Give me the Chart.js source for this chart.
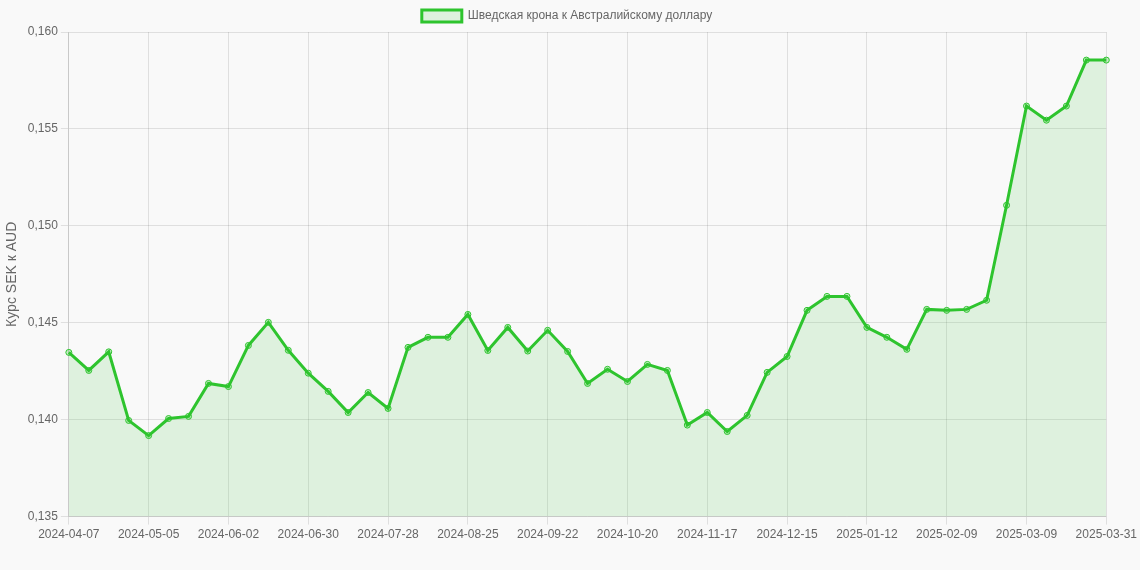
<!DOCTYPE html>
<html>
<head>
<meta charset="utf-8">
<script src="https://cdn.jsdelivr.net/npm/chart.js@4/dist/chart.umd.min.js"></script>
<style>
  html, body { margin: 0; padding: 0; background: #f9f9f9; }
  #wrap { width: 1140px; height: 570px; }
</style>
</head>
<body>
<div id="wrap"><canvas id="rate-chart"></canvas></div>
<script>
// weekly dates
const dates = [
  '2024-04-07', '2024-04-14', '2024-04-21', '2024-04-28', '2024-05-05', '2024-05-12',
  '2024-05-19', '2024-05-26', '2024-06-02', '2024-06-09', '2024-06-16', '2024-06-23',
  '2024-06-30', '2024-07-07', '2024-07-14', '2024-07-21', '2024-07-28', '2024-08-04',
  '2024-08-11', '2024-08-18', '2024-08-25', '2024-09-01', '2024-09-08', '2024-09-15',
  '2024-09-22', '2024-09-29', '2024-10-06', '2024-10-13', '2024-10-20', '2024-10-27',
  '2024-11-03', '2024-11-10', '2024-11-17', '2024-11-24', '2024-12-01', '2024-12-08',
  '2024-12-15', '2024-12-22', '2024-12-29', '2025-01-05', '2025-01-12', '2025-01-19',
  '2025-01-26', '2025-02-02', '2025-02-09', '2025-02-16', '2025-02-23', '2025-03-02',
  '2025-03-09', '2025-03-16', '2025-03-23', '2025-03-30', '2025-03-31'
];

const sekAud = [
  0.14347, 0.14254, 0.14350, 0.13996, 0.13918, 0.14006,
  0.14017, 0.14187, 0.14171, 0.14383, 0.14502, 0.14358,
  0.14240, 0.14146, 0.14037, 0.14140, 0.14058, 0.14373,
  0.14425, 0.14425, 0.14543, 0.14357, 0.14476, 0.14354,
  0.14461, 0.14352, 0.14187, 0.14260, 0.14197, 0.14285,
  0.14254, 0.13972, 0.14037, 0.13939, 0.14022, 0.14244,
  0.14326, 0.14564, 0.14636, 0.14636, 0.14476, 0.14425,
  0.14363, 0.14569, 0.14564, 0.14569, 0.14616, 0.15106,
  0.15618, 0.15545, 0.15618, 0.15855, 0.15855
];

const yTicks = { min: 0.135, max: 0.160, step: 0.005 };

Chart.defaults.font.family = '"Liberation Sans", Arial, sans-serif';
Chart.defaults.font.size = 12;
Chart.defaults.color = '#666';

let ctx = document.getElementById('rate-chart');
new Chart(ctx, {
  type: 'line',
  data: {
    labels: dates,
    datasets: [{
      label: 'Шведская крона к Австралийскому доллару',
      data: sekAud,
      borderColor: 'rgb(46,196,46)',
      backgroundColor: 'rgba(46,196,46,0.13)',
      borderWidth: 3,
      fill: true,
      tension: 0,
      pointRadius: 3,
      pointBorderWidth: 1,
      pointBackgroundColor: 'rgba(46,196,46,0.25)',
      pointBorderColor: 'rgb(46,196,46)'
    }]
  },
  options: {
    responsive: true,
    maintainAspectRatio: false,
    animation: false,
    layout: { padding: { left: 0, right: 6, top: 0, bottom: 25 } },
    plugins: {
      legend: {
        labels: { boxWidth: 40, boxHeight: 12, color: '#666' }
      },
      tooltip: { enabled: false }
    },
    scales: {
      x: {
        grid: { color: 'rgba(0,0,0,0.1)' },
        ticks: {
          autoSkip: false,
          maxRotation: 0,
          callback: function (val, idx) {
            return idx % 4 === 0 ? dates[idx] : null;
          }
        }
      },
      y: {
        min: yTicks.min,
        max: yTicks.max,
        grid: { color: 'rgba(0,0,0,0.1)' },
        ticks: {
          stepSize: yTicks.step,
          callback: v => v.toFixed(3).replace('.', ',')
        },
        title: { display: true, text: 'Курс SEK к AUD', font: { size: 14 }, color: '#666' }
      }
    }
  }
});
</script>
</body>
</html>
